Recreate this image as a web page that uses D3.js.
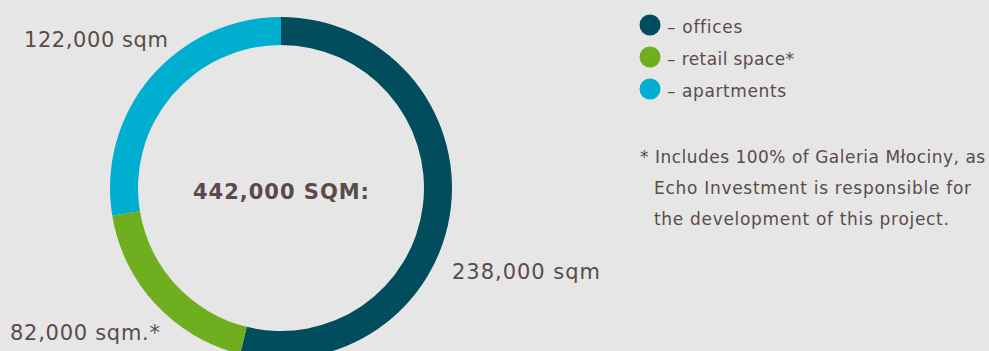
<!DOCTYPE html>
<html><head><meta charset="utf-8">
<script src="https://cdn.jsdelivr.net/npm/d3@7"></script>
<style>
html,body{margin:0;padding:0;background:#e6e6e6;}
svg{display:block;}
text{font-family:"DejaVu Sans","Noto Sans",sans-serif;fill:#5a4b49;}
</style></head>
<body>
<svg id="c" width="989" height="351"></svg>
<script>
const categories = ["offices", "retail space", "apartments"];
const values = [238000, 82000, 122000];
const valueLabels = ["238,000 sqm", "82,000 sqm.*", "122,000 sqm"];
const legendLabels = ["– offices", "– retail space*", "– apartments"];
const colors = ["#014d5e", "#6fae1e", "#00aed0"];
const centerLabel = "442,000 SQM:";
const footnote = ["* Includes 100% of Galeria Młociny, as", "Echo Investment is responsible for", "the development of this project."];

const svg = d3.select("#c");
svg.append("rect").attr("width",989).attr("height",351).attr("fill","#e6e6e6");

// fit text to a target width by letter spacing
function fit(sel, target){
  sel.each(function(d,i){
    const t = typeof target === "function" ? target(d,i) : target;
    const w = this.getComputedTextLength();
    const n = this.textContent.length;
    if (n > 1) d3.select(this).attr("letter-spacing", ((t - w)/(n-1)).toFixed(2));
  });
}

const cx = 281, cy = 188, rOut = 171, rIn = 143;
const pie = d3.pie().sort(null).value(d => d)(values);
const arc = d3.arc().innerRadius(rIn).outerRadius(rOut);
const g = svg.append("g").attr("transform",`translate(${cx},${cy})`);
g.selectAll("path").data(pie).join("path")
  .attr("d", arc).attr("fill", (d,i)=>colors[i]);

const ct = g.append("text").attr("x",-88).attr("y",11)
  .attr("font-size",21).attr("font-weight","bold")
  .text(centerLabel);
fit(ct, 176);

// value labels
const labelPos = [
  {x:452, y:279, w:148},
  {x:10, y:340, w:150},
  {x:24, y:47, w:144}
];
const vl = svg.selectAll("text.val").data(valueLabels).join("text").attr("class","val")
  .attr("x",(d,i)=>labelPos[i].x).attr("y",(d,i)=>labelPos[i].y)
  .attr("font-size",21).text(d=>d);
fit(vl, (d,i)=>labelPos[i].w);

// legend
const ly = d3.scalePoint().domain(categories).range([25,89]);
const lw = [75, 127, 119];
const lg = svg.append("g");
lg.selectAll("circle").data(categories).join("circle")
  .attr("cx",650).attr("cy",d=>ly(d)).attr("r",10.5).attr("fill",(d,i)=>colors[i]);
const lt = lg.selectAll("text").data(categories).join("text")
  .attr("x",667).attr("y",d=>ly(d)+8).attr("font-size",17)
  .text((d,i)=>legendLabels[i]);
fit(lt, (d,i)=>lw[i]);

// footnote
const fy = [163, 194, 225];
const fw = [345, 317, 295];
const ft = svg.selectAll("text.fn").data(footnote).join("text").attr("class","fn")
  .attr("x",(d,i)=> i===0 ? 640 : 654).attr("y",(d,i)=>fy[i])
  .attr("font-size",17).text(d=>d);
fit(ft, (d,i)=>fw[i]);
</script>
</body></html>
